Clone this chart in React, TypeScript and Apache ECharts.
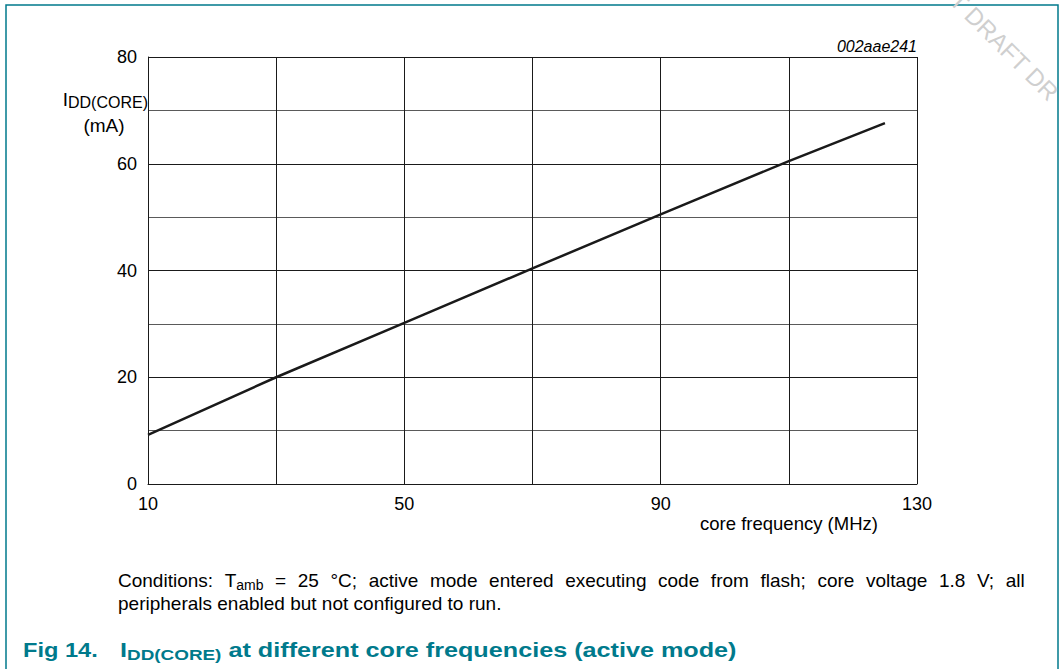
import React, { useEffect, useRef } from "react";
import * as echarts from "echarts";

// Data
const freqMHz = [10, 30, 50, 70, 90, 110, 125];
const iddCoreMA = [9.2, 20, 30.2, 40.4, 50.5, 60.5, 67.6];

const xLabelValues = [10, 50, 90, 130];
const yLabelValues = [0, 20, 40, 60, 80];

const conditionsLine1 = [
  "Conditions: T|amb",
  "=",
  "25",
  "°C;",
  "active",
  "mode",
  "entered",
  "executing",
  "code",
  "from",
  "flash;",
  "core",
  "voltage",
  "1.8",
  "V;",
  "all",
];
const conditionsLine2 = "peripherals enabled but not configured to run.";

const FONT = "'Liberation Sans', Arial, Helvetica, sans-serif";
const TEAL = "#007a8c";

function buildLine1(): string {
  return conditionsLine1
    .map((w) => {
      if (w.includes("|")) {
        const [a, b] = w.split("|");
        const parts = a.split(" ");
        return parts.map((p) => `{m|${p}}`).join("{g| }") + `{s|${b}}`;
      }
      return `{m|${w}}`;
    })
    .join("{g| }");
}

export default function App() {
  const ref = useRef<HTMLDivElement>(null);

  useEffect(() => {
    if (!ref.current) return;
    const chart = echarts.init(ref.current, undefined, { renderer: "svg" });

    const points = freqMHz.map((f, i) => [f, iddCoreMA[i]]);

    chart.setOption({
      animation: false,
      backgroundColor: "#ffffff",
      textStyle: { fontFamily: FONT },
      grid: { left: 148, right: 144, top: 57, bottom: 185, containLabel: false },
      xAxis: {
        type: "value",
        min: 10,
        max: 130,
        interval: 10,
        axisLine: { show: true, lineStyle: { color: "#1a1a1a", width: 1 } },
        axisTick: { show: false },
        axisLabel: {
          color: "#000",
          fontSize: 18,
          fontFamily: FONT,
          margin: 11,
          showMinLabel: true,
          showMaxLabel: true,
          formatter: (v: number) => (xLabelValues.includes(v) ? String(v) : ""),
        },
        splitLine: {
          show: true,
          lineStyle: { color: ["#1a1a1a", "rgba(0,0,0,0)"], width: 1 },
        },
      },
      yAxis: {
        type: "value",
        min: 0,
        max: 80,
        interval: 10,
        axisLine: { show: true, lineStyle: { color: "#1a1a1a", width: 1 } },
        axisTick: { show: false },
        axisLabel: {
          color: "#000",
          fontSize: 18,
          fontFamily: FONT,
          margin: 11,
          formatter: (v: number) => (yLabelValues.includes(v) ? String(v) : ""),
        },
        splitLine: {
          show: true,
          lineStyle: { color: ["#1a1a1a", "#5a5a5a"], width: 1 },
        },
      },
      series: [
        {
          type: "line",
          data: points,
          symbol: "none",
          lineStyle: { color: "#1a1a1a", width: 2.5 },
        },
      ],
      graphic: [
        {
          type: "polyline",
          shape: { points: [[6, 680], [6, 5], [1058, 5], [1058, 680]] },
          style: { stroke: TEAL, lineWidth: 1.5, fill: "none" },
          silent: true,
        },
        {
          type: "text",
          x: 908,
          y: -50,
          rotation: -Math.PI / 4,
          style: {
            text: "DRAFT DRAFT DR",
            fill: "#cfcfcf",
            font: `24px ${FONT}`,
            verticalAlign: "middle",
            align: "left",
          },
          silent: true,
          z: 10,
        },
        {
          type: "text",
          x: 917,
          y: 46,
          style: {
            text: "002aae241",
            fill: "#000",
            font: `italic 16px ${FONT}`,
            align: "right",
            verticalAlign: "middle",
          },
        },
        {
          type: "text",
          x: 148,
          y: 99,
          style: {
            text: "{m|I}{s|DD(CORE)}",
            align: "right",
            verticalAlign: "middle",
            rich: {
              m: { fontSize: 19, fontFamily: FONT, fill: "#000", lineHeight: 22, verticalAlign: "middle" },
              s: { fontSize: 16, fontFamily: FONT, fill: "#000", lineHeight: 16, verticalAlign: "bottom" },
            },
          },
        },
        {
          type: "text",
          x: 104,
          y: 125,
          style: {
            text: "(mA)",
            fill: "#000",
            font: `19px ${FONT}`,
            align: "center",
            verticalAlign: "middle",
          },
        },
        {
          type: "text",
          x: 789,
          y: 523,
          style: {
            text: "core frequency (MHz)",
            fill: "#000",
            font: `18.5px ${FONT}`,
            align: "center",
            verticalAlign: "middle",
          },
        },
        {
          type: "text",
          x: 118,
          y: 580,
          style: {
            text: buildLine1(),
            align: "left",
            verticalAlign: "middle",
            rich: {
              m: { fontSize: 19, fontFamily: FONT, fill: "#000", lineHeight: 24, verticalAlign: "middle" },
              g: { fontSize: 19, fontFamily: FONT, fill: "#000", lineHeight: 24, width: 11.6, verticalAlign: "middle" },
              s: { fontSize: 14, fontFamily: FONT, fill: "#000", lineHeight: 14, verticalAlign: "bottom" },
            },
          },
        },
        {
          type: "text",
          x: 118,
          y: 603,
          style: {
            text: conditionsLine2,
            fill: "#000",
            font: `19px ${FONT}`,
            align: "left",
            verticalAlign: "middle",
          },
        },
        {
          type: "text",
          x: 23,
          y: 650,
          scaleX: 1.18,
          style: {
            text: "Fig 14.",
            fill: TEAL,
            font: `bold 20px ${FONT}`,
            align: "left",
            verticalAlign: "middle",
          },
        },
        {
          type: "text",
          x: 120,
          y: 650,
          scaleX: 1.26,
          style: {
            text: "{m|I}{s|DD(CORE)}{m| at different core frequencies (active mode)}",
            align: "left",
            verticalAlign: "middle",
            rich: {
              m: { fontSize: 20, fontWeight: "bold", fontFamily: FONT, fill: TEAL, lineHeight: 26, verticalAlign: "middle" },
              s: { fontSize: 15, fontWeight: "bold", fontFamily: FONT, fill: TEAL, lineHeight: 15, verticalAlign: "bottom" },
            },
          },
        },
      ],
    });

    return () => chart.dispose();
  }, []);

  return (
    <div
      ref={ref}
      style={{ position: "absolute", left: 0, top: 0, width: 1061, height: 669, background: "#fff" }}
    />
  );
}
